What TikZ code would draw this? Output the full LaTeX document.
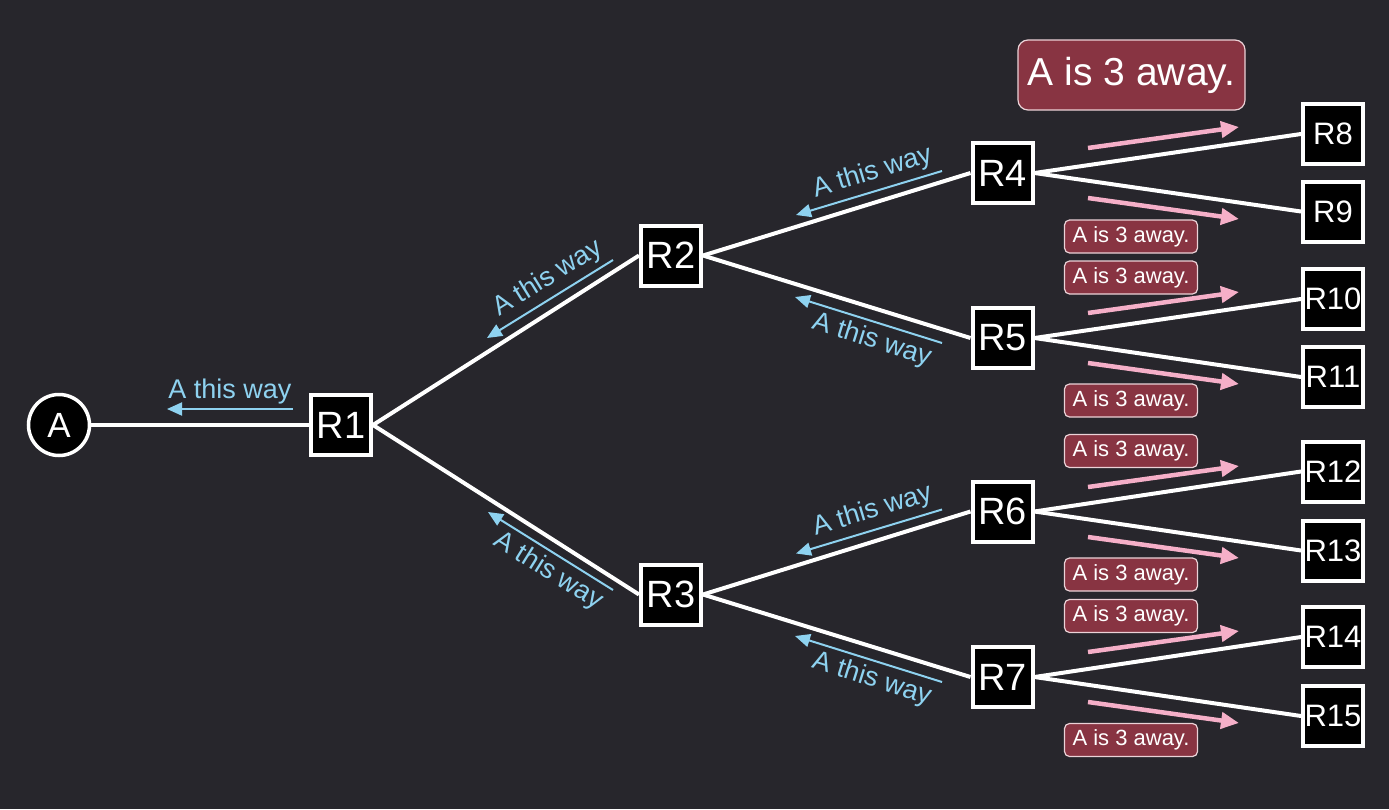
\documentclass[tikz,border=0pt]{standalone}
\usepackage{fontspec}
\setmainfont{Liberation Sans}
\usetikzlibrary{arrows.meta,calc}
\definecolor{bg}{RGB}{39,38,44}
\definecolor{waycol}{RGB}{142,210,240}
\definecolor{pinkarrow}{RGB}{245,175,200}
\definecolor{msgfill}{RGB}{136,52,66}
\definecolor{msgline}{RGB}{235,210,215}
\pgfdeclarelayer{bglayer}
\pgfdeclarelayer{edgelayer}
\pgfsetlayers{bglayer,edgelayer,main}
\begin{document}
\begin{tikzpicture}[x=1pt,y=-1pt,
  router/.style={draw=white, line width=4pt, fill=black, text=white, minimum size=60pt, inner sep=0pt, font=\fontsize{38}{38}\selectfont},
  leaf/.style={router, font=\fontsize{31}{31}\selectfont},
  host/.style={circle, draw=white, line width=3.5pt, fill=black, text=white, minimum size=61pt, inner sep=0pt, font=\fontsize{35}{35}\selectfont},
  link/.style={draw=white, line width=4pt},
  way/.style={draw=waycol, line width=2pt, {Triangle[length=15pt,width=13pt]}-},
  waytext/.style={text=waycol, font=\fontsize{27}{27}\selectfont, sloped, inner sep=5pt},
  away/.style={draw=pinkarrow, line width=4.5pt, -{Triangle[length=18pt,width=16pt]}},
  msg/.style={draw=msgline, line width=1.2pt, fill=msgfill, text=white, rounded corners=5pt, minimum width=133pt, minimum height=33pt, inner sep=0pt, font=\fontsize{22}{22}\selectfont},
  bigmsg/.style={msg, rounded corners=10pt, minimum width=227pt, minimum height=70pt, font=\fontsize{39}{39}\selectfont}
]
\begin{pgfonlayer}{bglayer}
\fill[bg] (0,0) rectangle (1389,809);
\end{pgfonlayer}
\useasboundingbox (0,0) rectangle (1389,809);

% nodes
\node[host] (A) at (59,425) {A};
\node[router] (R1) at (341,425) {R1};
\node[router] (R2) at (671,255.5) {R2};
\node[router] (R3) at (671,594.5) {R3};
\node[router] (R4) at (1002.5,173) {R4};
\node[router] (R5) at (1002.5,338) {R5};
\node[router] (R6) at (1002.5,511.5) {R6};
\node[router] (R7) at (1002.5,677) {R7};
\node[leaf] (R8) at (1333,134) {R8};
\node[leaf] (R9) at (1333,211.5) {R9};
\node[leaf] (R10) at (1333,299) {R10};
\node[leaf] (R11) at (1333,377) {R11};
\node[leaf] (R12) at (1333,471.5) {R12};
\node[leaf] (R13) at (1333,550.5) {R13};
\node[leaf] (R14) at (1333,637) {R14};
\node[leaf] (R15) at (1333,716) {R15};

% edges
\begin{pgfonlayer}{edgelayer}
\draw[link] (A.east) -- (R1.west);
\draw[link] (R1.east) -- (R2.west);
\draw[link] (R1.east) -- (R3.west);
\draw[link] (R2.east) -- (R4.west);
\draw[link] (R2.east) -- (R5.west);
\draw[link] (R3.east) -- (R6.west);
\draw[link] (R3.east) -- (R7.west);
\draw[link] (R4.east) -- (R8.west);
\draw[link] (R4.east) -- (R9.west);
\draw[link] (R5.east) -- (R10.west);
\draw[link] (R5.east) -- (R11.west);
\draw[link] (R6.east) -- (R12.west);
\draw[link] (R6.east) -- (R13.west);
\draw[link] (R7.east) -- (R14.west);
\draw[link] (R7.east) -- (R15.west);
\end{pgfonlayer}

% "A this way" arrows
\draw[way] (167,409) -- node[waytext, above, inner sep=4pt] {A this way} (293,409);
\draw[way] (487,338) -- node[waytext, above, pos=0.56] {A this way} (613,260);
\draw[way] (488,512) -- node[waytext, below, pos=0.56] {A this way} (613,590);
\draw[way] (796,215) -- node[waytext, above, pos=0.56] {A this way} (942,171);
\draw[way] (795,297) -- node[waytext, below, pos=0.56] {A this way} (942,343);
\draw[way] (796,553.5) -- node[waytext, above, pos=0.56] {A this way} (942,509.5);
\draw[way] (795,636) -- node[waytext, below, pos=0.56] {A this way} (942,682);

% "A is 3 away" arrows
\draw[away] (1088,148) -- (1239,127);
\draw[away] (1088,198) -- (1239,219);
\draw[away] (1088,313) -- (1239,292);
\draw[away] (1088,363) -- (1239,384);
\draw[away] (1088,487) -- (1239,466);
\draw[away] (1088,537) -- (1239,558);
\draw[away] (1088,652) -- (1239,631);
\draw[away] (1088,702) -- (1239,723);

% messages
\node[bigmsg] (m0) at (1131.5,75) {A is 3 away.};
\node[msg] (m4) at (1131,236.5) {A is 3 away.};
\node[msg] (m5a) at (1131,277.5) {A is 3 away.};
\node[msg] (m5b) at (1131,400.5) {A is 3 away.};
\node[msg] (m6a) at (1131,451) {A is 3 away.};
\node[msg] (m6b) at (1131,574.5) {A is 3 away.};
\node[msg] (m7a) at (1131,616) {A is 3 away.};
\node[msg] (m7b) at (1131,740) {A is 3 away.};
\end{tikzpicture}
\end{document}
